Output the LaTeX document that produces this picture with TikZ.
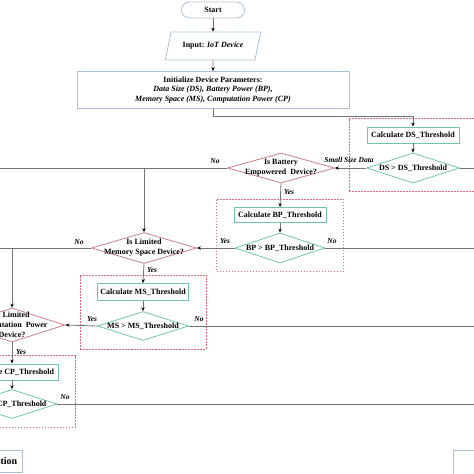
\documentclass[tikz,border=0pt]{standalone}
\usepackage{fontspec}
\setmainfont{Liberation Serif}
\usetikzlibrary{shapes.geometric,arrows.meta,positioning,fit}
\definecolor{linecol}{RGB}{115,115,115}
\definecolor{deccol}{RGB}{205,125,135}
\definecolor{chkcol}{RGB}{115,195,165}
\definecolor{framecol}{RGB}{225,105,120}
\definecolor{boxcol}{RGB}{170,192,215}

\begin{document}
\begin{tikzpicture}[
  x=1pt, y=-1pt,
  font=\fontsize{8}{9.5}\selectfont\bfseries,
  terminal/.style={draw=boxcol, line width=0.8pt, rounded corners=8pt,
                   minimum width=63pt, minimum height=16pt, inner sep=0pt},
  io/.style={trapezium, trapezium left angle=60, trapezium right angle=120,
             trapezium stretches=true, draw=boxcol, line width=0.8pt,
             minimum width=96pt, minimum height=28pt, inner sep=0pt},
  initbox/.style={draw=boxcol, line width=0.8pt, minimum width=272pt,
                  minimum height=37pt, align=center, inner sep=1pt},
  calcbox/.style={draw=chkcol, line width=0.9pt, minimum width=92pt,
                  minimum height=16pt, inner sep=0pt},
  dtext/.style={align=center, inner sep=0pt, font=\fontsize{8}{10}\selectfont\bfseries},
  decision/.style={diamond, draw=deccol, line width=0.8pt, inner sep=0pt,
                   minimum width=106pt, minimum height=31pt,
                   label={[dtext]center:#1}},
  check/.style={decision={#1}, draw=chkcol, minimum width=91pt, minimum height=30pt},
  group/.style={draw=framecol, dash pattern=on 1.5pt off 1.5pt, line width=0.7pt,
                inner xsep=17pt, inner ysep=8pt},
  endbox/.style={draw=boxcol, line width=0.8pt, minimum height=22pt,
                 inner xsep=5.3pt, font=\fontsize{10}{12}\selectfont\bfseries},
  flow/.style={draw=linecol, line width=0.8pt},
  arr/.style={flow, -{Stealth[length=4pt, width=3.4pt, color=black]}},
  lbl/.style={font=\fontsize{7.5}{9}\selectfont\bfseries\itshape, inner sep=1pt}
]
  \useasboundingbox (0,0) rectangle (474,474);
  \clip (0,0) rectangle (474,474);

  % Start, input and initialisation
  \node[terminal] (start) at (213,10) {Start};
  \node[io] (input) at (213,46) {Input: \textit{IoT Device}};
  \node[initbox] (init) at (213,90) {Initialize Device Parameters:\\
    \textit{Data Size (DS), Battery Power (BP),}\\
    \textit{Memory Space (MS), Computation Power (CP)}};

  % Data size check
  \node[calcbox] (dscalc) at (413,135) {Calculate DS\_Threshold};
  \node[check={DS > DS\_Threshold}, minimum width=93pt] (dsdec) at (413,168) {};

  % Battery
  \node[decision={Is Battery\\Empowered\ \ Device?}, minimum width=107pt,
        minimum height=30pt] (batdec) at (281,168) {};
  \node[calcbox, minimum height=15pt] (bpcalc) at (280,215) {Calculate BP\_Threshold};
  \node[check={BP > BP\_Threshold}, minimum width=90pt] (bpdec) at (280,248) {};

  % Memory
  \node[decision={Is Limited\\Memory Space Device?}, minimum width=105pt] (memdec) at (144,248) {};
  \node[calcbox, minimum width=91pt, minimum height=17pt] (mscalc) at (143,292) {Calculate MS\_Threshold};
  \node[check={MS > MS\_Threshold}, minimum height=29pt] (msdec) at (143,326) {};

  % Computation
  \node[decision={Is Limited\\Computation\ \ Power\\Device?}, minimum height=34pt] (cpdec) at (12,325) {};
  \node[calcbox] (cpcalc) at (12,372) {Calculate CP\_Threshold};
  \node[check={CP > CP\_Threshold}, minimum width=90pt, minimum height=29pt] (cpdec2) at (12,404) {};

  % Dotted groups
  \node[group, fit=(dscalc)(dsdec)] (dsgrp) {};
  \node[group, fit=(bpcalc)(bpdec)] (bpgrp) {};
  \node[group, fit=(mscalc)(msdec)] (msgrp) {};
  \node[group, fit=(cpcalc)(cpdec2)] (cpgrp) {};

  % End boxes
  \node[endbox, anchor=east] (local) at (23,461) {Local Execution};
  \node[endbox, anchor=north west, minimum width=90pt, minimum height=24pt] (offload) at (453,450) {};

  % Loose ends leaving the picture
  \coordinate (dsout)  at (480,168);
  \coordinate (batout) at (-6,168);
  \coordinate (bpout)  at (480,248);
  \coordinate (memout) at (-6,248);
  \coordinate (msout)  at (480,326);
  \coordinate (cpout)  at (480,404);

  % Connections
  \draw[arr] (start) -- (input);
  \draw[arr] (input) -- (init);
  \draw[arr] (init.south) -- ++(0,7) -| (dscalc.north);
  \draw[arr] (dscalc) -- (dsdec);
  \draw[flow] (dsdec.east) -- (dsout);
  \draw[arr] (dsdec.west) -- (batdec.east);
  \draw[flow] (batdec.west) -- (batout);
  \draw[arr] (batdec.west -| memdec.north) -- (memdec.north);
  \draw[arr] (batdec.south) -- (bpcalc.north);
  \draw[arr] (bpcalc) -- (bpdec);
  \draw[flow] (bpdec.east) -- (bpout);
  \draw[arr] (bpdec.west) -- (memdec.east);
  \draw[flow] (memdec.west) -- (memout);
  \draw[arr] (memdec.west -| cpdec.north) -- (cpdec.north);
  \draw[arr] (memdec.south) -- (mscalc.north);
  \draw[arr] (mscalc) -- (msdec);
  \draw[flow] (msdec.east) -- (msout);
  \draw[arr] (msdec.west) -- (cpdec.east);
  \draw[arr] (cpdec.south) -- (cpcalc.north);
  \draw[arr] (cpcalc) -- (cpdec2);
  \draw[flow] (cpdec2.east) -- (cpout);

  % Branch labels
  \foreach \pos/\txt [count=\i] in {{215,161}/No, {349,160}/Small Size Data,
      {289,192}/Yes, {225,241}/Yes, {332,241}/No, {79,242}/No, {152,270}/Yes,
      {92,319}/Yes, {199,319}/No, {21,352}/Yes, {65,397}/No} {
    \node[lbl] (lb\i) at (\pos) {\txt};
  }
\end{tikzpicture}
\end{document}
